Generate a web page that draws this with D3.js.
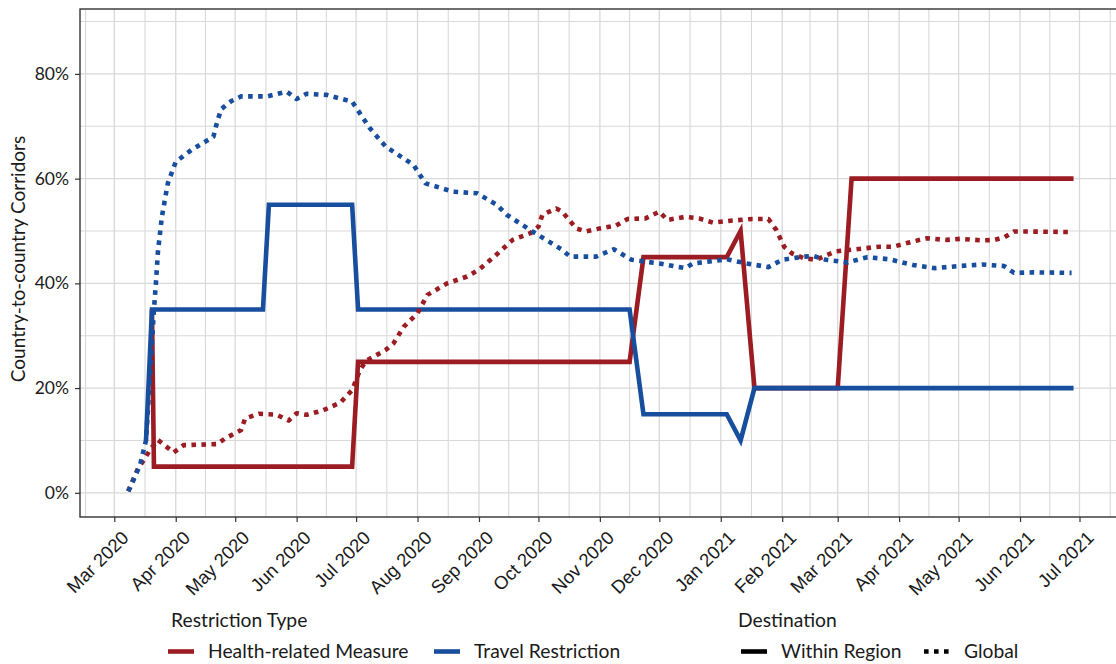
<!DOCTYPE html>
<html><head><meta charset="utf-8">
<script src="https://cdn.jsdelivr.net/npm/d3@7"></script>
<style>html,body{margin:0;padding:0;background:#fff;} svg{display:block;font-family:Lato,"Open Sans",sans-serif;}</style>
</head><body>
<svg id="chart" width="1116" height="664"></svg>
<script>
// ---- data ----
const monthTicks = ["2020-03-01","2020-04-01","2020-05-01","2020-06-01","2020-07-01","2020-08-01","2020-09-01","2020-10-01","2020-11-01","2020-12-01","2021-01-01","2021-02-01","2021-03-01","2021-04-01","2021-05-01","2021-06-01","2021-07-01"];
const yTicks = [0, 20, 40, 60, 80];
const yMinor = [10, 30, 50, 70, 90];

const healthWithinDates = ["2020-03-20","2020-03-21","2020-06-29","2020-07-02","2020-11-16","2020-11-23","2021-01-04","2021-01-11","2021-01-18","2021-03-01","2021-03-08","2021-06-28"];
const healthWithinValues = [35, 5, 5, 25, 25, 45, 45, 50, 20, 20, 60, 60];

const travelWithinDates = ["2020-03-17","2020-03-20","2020-05-15","2020-05-18","2020-06-29","2020-07-02","2020-11-16","2020-11-23","2021-01-04","2021-01-11","2021-01-18","2021-06-28"];
const travelWithinValues = [10, 35, 35, 55, 55, 35, 35, 15, 15, 10, 20, 20];

const healthGlobalDates = ["2020-03-08","2020-03-13","2020-03-16","2020-03-19","2020-03-23","2020-03-31","2020-04-05","2020-04-22","2020-04-26","2020-05-04","2020-05-06","2020-05-13","2020-05-22","2020-05-28","2020-06-01","2020-06-06","2020-06-14","2020-06-23","2020-06-29","2020-07-03","2020-07-06","2020-07-16","2020-07-20","2020-07-25","2020-08-01","2020-08-06","2020-08-16","2020-08-26","2020-09-01","2020-09-09","2020-09-18","2020-09-27","2020-10-01","2020-10-03","2020-10-10","2020-10-13","2020-10-20","2020-10-25","2020-11-01","2020-11-09","2020-11-15","2020-11-24","2020-12-01","2020-12-05","2020-12-14","2020-12-21","2020-12-28","2021-01-07","2021-01-17","2021-01-25","2021-01-29","2021-02-02","2021-02-06","2021-02-12","2021-02-18","2021-02-28","2021-03-10","2021-03-22","2021-03-29","2021-04-08","2021-04-15","2021-04-25","2021-05-02","2021-05-13","2021-05-19","2021-05-24","2021-05-29","2021-06-04","2021-06-27"];
const healthGlobalValues = [0.3, 4.7, 6.3, 8.2, 10.1, 7.7, 9.1, 9.3, 10.4, 12.0, 14.2, 15.1, 14.9, 13.8, 15.2, 14.9, 15.7, 17.2, 19.6, 23.5, 25.2, 27.3, 28.6, 31.7, 34.3, 37.8, 40.0, 41.3, 42.6, 45.2, 48.3, 49.6, 50.8, 53.1, 54.3, 53.7, 50.5, 49.9, 50.5, 51.0, 52.3, 52.4, 53.7, 52.1, 52.7, 52.4, 51.6, 52.0, 52.3, 52.3, 50.2, 47.0, 45.7, 44.8, 44.5, 46.1, 46.5, 47.0, 47.0, 48.0, 48.6, 48.3, 48.5, 48.2, 48.3, 48.8, 49.9, 49.9, 49.8];

const travelGlobalDates = ["2020-03-08","2020-03-09","2020-03-14","2020-03-17","2020-03-19","2020-03-21","2020-03-22","2020-03-23","2020-03-25","2020-03-28","2020-04-01","2020-04-09","2020-04-20","2020-04-22","2020-04-24","2020-04-29","2020-05-04","2020-05-17","2020-05-27","2020-06-01","2020-06-06","2020-06-16","2020-06-29","2020-07-08","2020-07-16","2020-07-30","2020-08-05","2020-08-19","2020-08-31","2020-09-10","2020-09-15","2020-09-28","2020-10-13","2020-10-17","2020-10-30","2020-11-08","2020-11-17","2020-12-01","2020-12-14","2020-12-18","2021-01-04","2021-01-14","2021-01-25","2021-02-01","2021-02-12","2021-02-17","2021-02-23","2021-03-06","2021-03-16","2021-03-27","2021-04-08","2021-04-19","2021-05-01","2021-05-13","2021-05-24","2021-05-29","2021-06-08","2021-06-27"];
const travelGlobalValues = [0.3, 1.0, 5.3, 10.0, 22.0, 35.0, 40.0, 46.0, 52.7, 59.1, 63.2, 65.5, 68.0, 71.0, 73.3, 74.8, 75.7, 75.7, 76.6, 75.2, 76.2, 76.0, 74.7, 69.6, 66.1, 62.6, 59.1, 57.5, 57.2, 55.0, 53.1, 49.9, 46.4, 45.1, 45.1, 46.5, 44.5, 43.8, 42.9, 43.8, 44.6, 43.8, 43.1, 44.5, 45.1, 45.2, 44.5, 44.0, 45.0, 44.6, 43.5, 42.9, 43.3, 43.6, 43.3, 42.0, 42.1, 42.0];

const typeLabels = ["Health-related Measure", "Travel Restriction"];
const typeColors = ["#9b1c22", "#184e9e"];
const destLabels = ["Within Region", "Global"];

// ---- layout ----
const svg = d3.select("#chart");
const parse = d3.utcParse("%Y-%m-%d");
const panel = {left: 80, top: 9, right: 1122, bottom: 517};

const x = d3.scaleUtc().domain([parse("2020-03-01"), parse("2021-07-01")]).range([114.3, 1079.5]);
const y = d3.scaleLinear().domain([0, 80]).range([492.8, 73.9]);

svg.append("clipPath").attr("id", "clip").append("rect")
  .attr("x", panel.left).attr("y", panel.top)
  .attr("width", panel.right - panel.left).attr("height", panel.bottom - panel.top);

const grid = svg.append("g").attr("clip-path", "url(#clip)");
const majorDates = monthTicks.map(parse);
const minorDates = [];
const extMajor = [d3.utcMonth.offset(majorDates[0], -1), ...majorDates, d3.utcMonth.offset(majorDates[majorDates.length - 1], 1)];
for (let i = 0; i < extMajor.length - 1; i++) {
  minorDates.push(new Date((extMajor[i].getTime() + extMajor[i + 1].getTime()) / 2));
}
const gridColor = "#d9d9d9";
grid.selectAll(".vminor").data(minorDates).join("line")
  .attr("x1", d => x(d)).attr("x2", d => x(d)).attr("y1", panel.top).attr("y2", panel.bottom)
  .attr("stroke", gridColor).attr("stroke-width", 1.1);
grid.selectAll(".hminor").data(yMinor).join("line")
  .attr("y1", d => y(d)).attr("y2", d => y(d)).attr("x1", panel.left).attr("x2", panel.right)
  .attr("stroke", gridColor).attr("stroke-width", 1.1);
grid.selectAll(".vmajor").data(majorDates).join("line")
  .attr("x1", d => x(d)).attr("x2", d => x(d)).attr("y1", panel.top).attr("y2", panel.bottom)
  .attr("stroke", gridColor).attr("stroke-width", 1.3);
grid.selectAll(".hmajor").data(yTicks).join("line")
  .attr("y1", d => y(d)).attr("y2", d => y(d)).attr("x1", panel.left).attr("x2", panel.right)
  .attr("stroke", gridColor).attr("stroke-width", 1.3);

// ---- series ----
const series = [
  {dates: healthWithinDates, values: healthWithinValues, color: typeColors[0], dotted: false},
  {dates: travelWithinDates, values: travelWithinValues, color: typeColors[1], dotted: false},
  {dates: healthGlobalDates, values: healthGlobalValues, color: typeColors[0], dotted: true},
  {dates: travelGlobalDates, values: travelGlobalValues, color: typeColors[1], dotted: true}
];
const line = d3.line().x(d => x(d[0])).y(d => y(d[1]));
const lines = svg.append("g").attr("clip-path", "url(#clip)");
series.forEach(s => {
  const pts = s.dates.map((d, i) => [parse(d), s.values[i]]);
  lines.append("path").datum(pts).attr("d", line)
    .attr("fill", "none").attr("stroke", s.color).attr("stroke-width", 4.6)
    .attr("stroke-linejoin", s.dotted ? "round" : "miter")
    .attr("stroke-dasharray", s.dotted ? "4.6,5.4" : null);
});

// ---- axes ----
const axisColor = "#333333";
svg.append("rect").attr("x", panel.left).attr("y", panel.top)
  .attr("width", panel.right - panel.left).attr("height", panel.bottom - panel.top)
  .attr("fill", "none").attr("stroke", axisColor).attr("stroke-width", 1.4);

const yAxis = svg.append("g").attr("transform", `translate(${panel.left},0)`)
  .call(d3.axisLeft(y).tickValues(yTicks).tickFormat(d => d + "%").tickSize(5).tickPadding(6));
yAxis.select(".domain").remove();
yAxis.selectAll("line").attr("stroke", axisColor).attr("stroke-width", 1.2);
yAxis.selectAll("text").attr("font-size", 17.5).attr("fill", "#1a1a1a").attr("font-family", "Lato, sans-serif");

const xAxis = svg.append("g").attr("transform", `translate(0,${panel.bottom})`)
  .call(d3.axisBottom(x).tickValues(majorDates).tickFormat(d3.utcFormat("%b %Y")).tickSize(5).tickPadding(4));
xAxis.select(".domain").remove();
xAxis.selectAll("line").attr("stroke", axisColor).attr("stroke-width", 1.2);
xAxis.selectAll("text").attr("font-size", 18.5).attr("fill", "#1a1a1a")
  .attr("text-anchor", "end").attr("dy", "0.35em")
  .attr("transform", "translate(4,11) rotate(-45)");

svg.append("text").attr("transform", `translate(25,${(panel.top + panel.bottom) / 2 - 4}) rotate(-90)`)
  .attr("text-anchor", "middle").attr("font-size", 19).attr("fill", "#1a1a1a")
  .text("Country-to-country Corridors");

// ---- legends ----
const leg = svg.append("g").attr("font-size", 19.3).attr("fill", "#1a1a1a");
leg.append("text").attr("x", 171).attr("y", 627).text("Restriction Type");
const typeKeyX = [168, 434];
typeLabels.forEach((lab, i) => {
  leg.append("line").attr("x1", typeKeyX[i]).attr("x2", typeKeyX[i] + 26).attr("y1", 651.5).attr("y2", 651.5)
    .attr("stroke", typeColors[i]).attr("stroke-width", 4.6);
  leg.append("text").attr("x", typeKeyX[i] + 40).attr("y", 658).text(lab);
});
leg.append("text").attr("x", 738).attr("y", 627).text("Destination");
const destKeyX = [741, 924];
destLabels.forEach((lab, i) => {
  leg.append("line").attr("x1", destKeyX[i]).attr("x2", destKeyX[i] + 26).attr("y1", 651.5).attr("y2", 651.5)
    .attr("stroke", "#000").attr("stroke-width", 4.6)
    .attr("stroke-dasharray", i === 1 ? "4.6,5.4" : null);
  leg.append("text").attr("x", destKeyX[i] + 40).attr("y", 658).text(lab);
});
</script>
</body></html>
